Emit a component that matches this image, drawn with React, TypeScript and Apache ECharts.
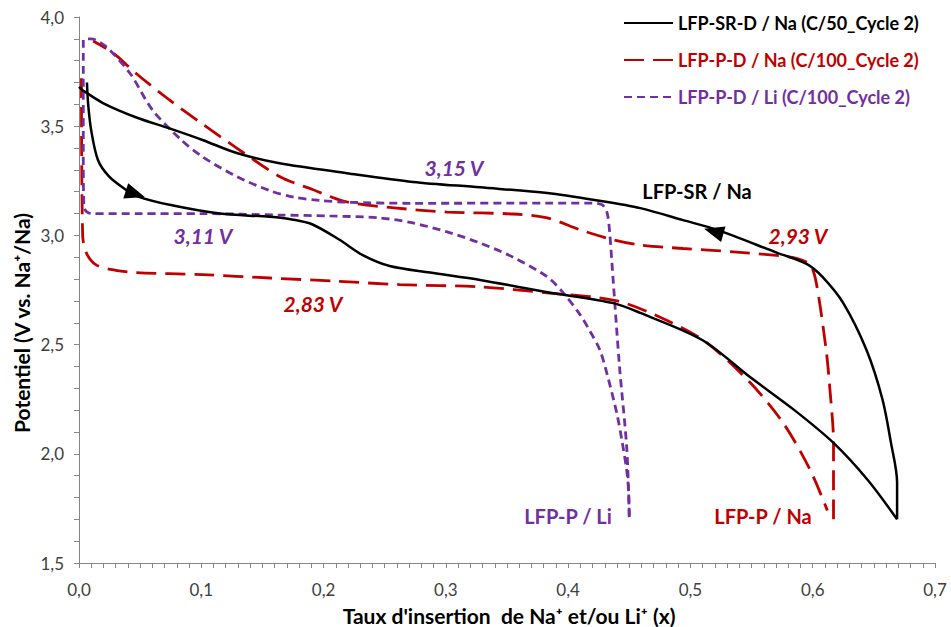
import React, { useEffect, useRef } from "react";
import * as echarts from "echarts";

// LFP-SR-D / Na (C/50_Cycle 2)
const blackDischarge: [number, number][] = [
  [0.0065, 3.70], [0.0075, 3.60], [0.01, 3.48], [0.0155, 3.345], [0.0245, 3.27],
  [0.038, 3.21], [0.047, 3.18], [0.074, 3.14], [0.115, 3.10], [0.156, 3.085],
  [0.175, 3.072], [0.191, 3.05], [0.213, 2.98], [0.232, 2.91], [0.254, 2.86],
  [0.287, 2.83], [0.328, 2.796], [0.383, 2.74], [0.437, 2.69], [0.459, 2.645],
  [0.51, 2.52], [0.549, 2.35], [0.585, 2.20], [0.617, 2.05], [0.645, 1.88], [0.669, 1.70],
];
const blackCharge: [number, number][] = [
  [0.669, 1.70], [0.669, 1.87], [0.664, 2.05], [0.657, 2.25], [0.644, 2.475], [0.625, 2.69],
  [0.608, 2.81], [0.595, 2.87], [0.571, 2.92], [0.522, 3.025], [0.494, 3.07],
  [0.459, 3.125], [0.424, 3.16], [0.383, 3.194], [0.328, 3.22], [0.273, 3.245],
  [0.219, 3.285], [0.164, 3.33], [0.129, 3.377], [0.101, 3.437], [0.074, 3.49],
  [0.047, 3.54], [0.020, 3.605], [0.003, 3.665], [0.0, 3.68],
];

// LFP-P-D / Na (C/100_Cycle 2)
const redDischarge: [number, number][] = [
  [0.002, 3.72], [0.003, 3.0], [0.006, 2.92], [0.014, 2.865], [0.03, 2.84],
  [0.047, 2.83], [0.101, 2.82], [0.156, 2.805], [0.211, 2.79], [0.262, 2.775],
  [0.328, 2.764], [0.383, 2.737], [0.44, 2.70], [0.481, 2.61], [0.513, 2.51],
  [0.549, 2.325], [0.576, 2.14], [0.598, 1.925], [0.612, 1.74],
];
const redCharge: [number, number][] = [
  [0.617, 1.70], [0.617, 2.05], [0.614, 2.30], [0.611, 2.475], [0.603, 2.78],
  [0.598, 2.865], [0.588, 2.893], [0.576, 2.905], [0.535, 2.925], [0.494, 2.94], [0.459, 2.956],
  [0.437, 2.98], [0.41, 3.025], [0.383, 3.08], [0.355, 3.098], [0.301, 3.107],
  [0.26, 3.125], [0.219, 3.153], [0.191, 3.21], [0.164, 3.27], [0.129, 3.40],
  [0.101, 3.51], [0.074, 3.62], [0.047, 3.74], [0.028, 3.835], [0.0115, 3.89],
];

// LFP-P-D / Li (C/100_Cycle 2)
const purpleDischarge: [number, number][] = [
  [0.0035, 3.895], [0.0035, 3.40], [0.004, 3.13], [0.007, 3.105], [0.011, 3.10],
  [0.05, 3.10], [0.1, 3.10], [0.164, 3.093], [0.205, 3.089], [0.246, 3.08],
  [0.273, 3.057], [0.301, 3.016], [0.328, 2.965], [0.355, 2.90], [0.383, 2.81],
  [0.396, 2.737], [0.41, 2.635], [0.418, 2.56], [0.426, 2.475], [0.433, 2.34],
  [0.44, 2.18], [0.444, 2.06], [0.448, 1.92], [0.4495, 1.82], [0.45, 1.71],
];
const purpleCharge: [number, number][] = [
  [0.45, 1.71], [0.448, 2.02], [0.442, 2.40], [0.437, 2.78], [0.434, 3.01], [0.432, 3.10],
  [0.428, 3.14], [0.42, 3.148], [0.383, 3.148], [0.273, 3.147], [0.219, 3.152], [0.197, 3.16],
  [0.176, 3.175], [0.156, 3.205], [0.129, 3.27], [0.101, 3.36], [0.083, 3.44],
  [0.06, 3.575], [0.042, 3.74], [0.025, 3.85], [0.017, 3.885], [0.010, 3.90], [0.004, 3.90],
];

// Direction arrows on the black curve: x, y, rotation
const arrowPoints: [number, number, number][] = [
  [0.046, 3.19, -108],
  [0.519, 3.018, 74],
];

const seriesNames = [
  "LFP-SR-D / Na (C/50_Cycle 2)",
  "LFP-P-D / Na (C/100_Cycle 2)",
  "LFP-P-D / Li (C/100_Cycle 2)",
];

const xTicks = { min: 0, max: 0.7, interval: 0.1 };
const yTicks = { min: 1.5, max: 4.0, interval: 0.5 };

const FONT = "Lato, 'Noto Sans', 'DejaVu Sans', sans-serif";
const BLACK = "#000000";
const RED = "#C00000";
const PURPLE = "#7030A0";
const AXIS = "#868686";

const fmt = (v: number) => v.toFixed(1).replace(".", ",");

export default function App() {
  const ref = useRef<HTMLDivElement>(null);

  useEffect(() => {
    if (!ref.current) return;
    const chart = echarts.init(ref.current, undefined, { renderer: "svg" });

    const label = (text: string, x: number, y: number, color: string, italic = true, size = 21) => ({
      type: "text",
      x,
      y,
      silent: true,
      style: {
        text,
        fill: color,
        font: `${italic ? "italic " : ""}bold ${size}px ${FONT}`,
        align: "center",
        verticalAlign: "middle",
        textAlign: "center",
        textVerticalAlign: "middle",
      },
    });

    const lineSeries = (name: string, data: [number, number][], color: string, width: number, type: any, z: number) => ({
      name,
      type: "line",
      data,
      showSymbol: false,
      symbol: "none",
      smooth: 0.3,
      color,
      lineStyle: { color, width, type },
      z,
    });

    chart.setOption({
      animation: false,
      backgroundColor: "#ffffff",
      grid: { left: 79, right: 16, top: 17, bottom: 64, containLabel: false },
      xAxis: {
        type: "value",
        min: xTicks.min,
        max: xTicks.max,
        interval: xTicks.interval,
        axisLine: { show: true, lineStyle: { color: AXIS, width: 1 } },
        axisTick: { show: true, length: 5, lineStyle: { color: AXIS } },
        minorTick: { show: true, splitNumber: 10, length: 5, lineStyle: { color: AXIS } },
        splitLine: { show: false },
        axisLabel: { formatter: fmt, color: "#404040", fontSize: 17, fontFamily: FONT, margin: 18 },
      },
      yAxis: {
        type: "value",
        min: yTicks.min,
        max: yTicks.max,
        interval: yTicks.interval,
        axisLine: { show: true, lineStyle: { color: AXIS, width: 1 } },
        axisTick: { show: true, length: 5, lineStyle: { color: AXIS } },
        minorTick: { show: true, splitNumber: 5, length: 5, lineStyle: { color: AXIS } },
        splitLine: { show: false },
        axisLabel: { formatter: fmt, color: "#404040", fontSize: 17, fontFamily: FONT, margin: 15 },
      },
      legend: {
        orient: "vertical",
        left: 618,
        top: 9,
        itemWidth: 49,
        itemHeight: 14,
        itemGap: 19,
        itemStyle: { opacity: 0, borderWidth: 0 },
        textStyle: { fontSize: 18, fontWeight: "bold", fontFamily: FONT },
        data: [
          { name: seriesNames[0], textStyle: { color: BLACK } },
          { name: seriesNames[1], textStyle: { color: RED } },
          { name: seriesNames[2], textStyle: { color: PURPLE } },
        ],
      },
      series: [
        lineSeries(seriesNames[0], blackDischarge, BLACK, 2.5, "solid", 3),
        lineSeries(seriesNames[0], blackCharge, BLACK, 2.5, "solid", 3),
        lineSeries(seriesNames[1], redDischarge, RED, 2.8, [20, 9], 2),
        lineSeries(seriesNames[1], redCharge, RED, 2.8, [20, 9], 2),
        lineSeries(seriesNames[2], purpleDischarge, PURPLE, 2.8, [8, 5], 2),
        lineSeries(seriesNames[2], purpleCharge, PURPLE, 2.8, [8, 5], 2),
        {
          name: "arrows",
          type: "scatter",
          data: arrowPoints.map((p) => ({ value: [p[0], p[1]], symbolRotate: p[2] })),
          symbol: "triangle",
          symbolSize: [16, 20],
          itemStyle: { color: BLACK, opacity: 1 },
          z: 4,
          silent: true,
        },
      ],
      graphic: [
        {
          type: "text",
          x: 21,
          y: 323,
          rotation: Math.PI / 2,
          silent: true,
          style: {
            text: "Potentiel (V vs. Na⁺/Na)",
            fill: "#000000",
            font: `bold 21px ${FONT}`,
            align: "center",
            verticalAlign: "middle",
            textAlign: "center",
            textVerticalAlign: "middle",
          },
        },
        {
          type: "text",
          x: 509,
          y: 615,
          silent: true,
          style: {
            text: "Taux d'insertion  de Na⁺ et/ou Li⁺ (x)",
            fill: "#000000",
            font: `bold 21px ${FONT}`,
            align: "center",
            verticalAlign: "middle",
            textAlign: "center",
            textVerticalAlign: "middle",
          },
        },
        label("3,15 V", 454, 167, PURPLE),
        label("3,11 V", 203, 235, PURPLE),
        label("2,83 V", 313, 303, RED),
        label("2,93 V", 798, 235, RED),
        label("LFP-SR / Na", 697, 191, BLACK, false, 20),
        label("LFP-P / Li", 568, 516, PURPLE, false, 20),
        label("LFP-P / Na", 763, 516, RED, false, 20),
      ],
    });

    return () => chart.dispose();
  }, []);

  return <div ref={ref} style={{ width: 951, height: 627, position: "absolute", left: 0, top: 0 }} />;
}
